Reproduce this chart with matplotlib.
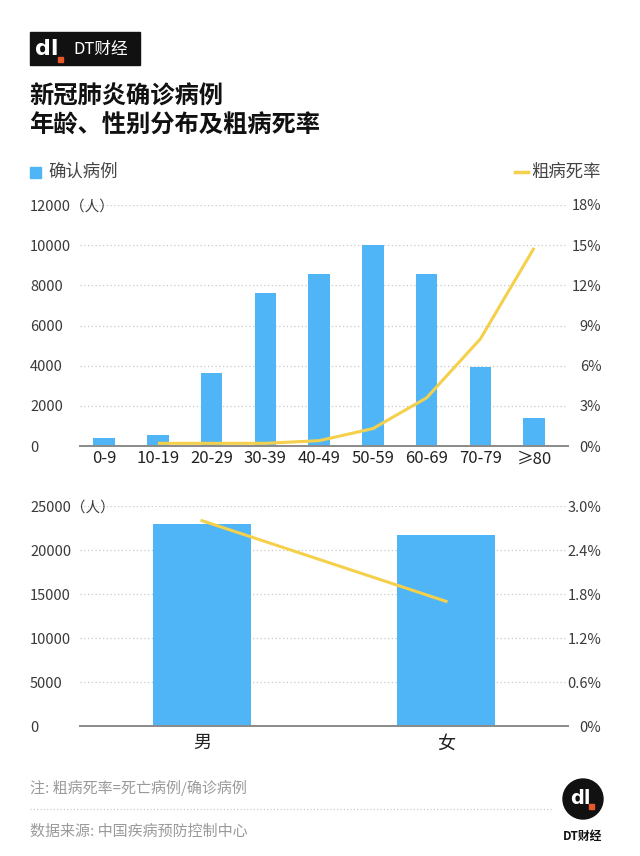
import matplotlib
matplotlib.use("Agg")
import numpy as np
import matplotlib.pyplot as plt
from matplotlib.patches import Rectangle, Ellipse
from matplotlib.lines import Line2D

plt.rcParams['font.family'] = ['Noto Sans CJK SC', 'DejaVu Sans']

## DATA ##
age_groups = ["0-9", "10-19", "20-29", "30-39", "40-49",
              "50-59", "60-69", "70-79", "≥80"]
age_cases = [416, 549, 3619, 7600, 8571, 10008, 8583, 3918, 1408]
age_cfr = [np.nan, 0.2, 0.2, 0.2, 0.4, 1.3, 3.6, 8.0, 14.8]

sex_groups = ["男", "女"]
sex_cases = [22981, 21691]
sex_cfr = [2.8, 1.7]

age_left_ticks = [0, 2000, 4000, 6000, 8000, 10000, 12000]
age_right_ticks = [0, 3, 6, 9, 12, 15, 18]
sex_left_ticks = [0, 5000, 10000, 15000, 20000, 25000]
sex_right_ticks = [0, 0.6, 1.2, 1.8, 2.4, 3.0]

BLUE = "#4fb5f6"
YELLOW = "#f5d04c"
GRID = "#c9c9c9"
TICK = "#3a3a3a"

W, H = 640, 856
fig = plt.figure(figsize=(W / 100, H / 100), dpi=100)


def fx(px):
    return px / W


def fy(py):
    return 1 - py / H


def style_axes(ax, ax2, left_ticks, left_labels, right_ticks, right_labels):
    ax.set_yticks(left_ticks)
    ax.set_yticklabels(left_labels)
    ax2.set_yticks(right_ticks)
    ax2.set_yticklabels(right_labels)
    for a in (ax, ax2):
        for s in a.spines.values():
            s.set_visible(False)
        a.tick_params(axis="y", length=0, colors=TICK, labelsize=10.5)
    ax.tick_params(axis="x", length=0)
    ax.spines["bottom"].set_visible(True)
    ax.spines["bottom"].set_color("#8a8a8a")
    ax.spines["bottom"].set_linewidth(1.4)
    ax.tick_params(axis="y", pad=36)
    for lab in ax.get_yticklabels():
        lab.set_ha("left")
    ax2.tick_params(axis="y", pad=24)
    for lab in ax2.get_yticklabels():
        lab.set_ha("right")
    ax.grid(axis="y", linestyle=(0, (1, 2)), color=GRID, linewidth=0.9)
    ax.set_axisbelow(True)
    ax2.set_zorder(ax.get_zorder() + 1)
    ax2.patch.set_visible(False)


## 1. AGE CHART ##
ax1 = fig.add_axes([fx(80), fy(446), fx(488), (446 - 205) / H])
x_age = np.arange(len(age_groups))
ax1.bar(x_age, age_cases, width=0.4, color=BLUE, zorder=2)
ax1.set_xlim(-0.45, 8.63)
ax1.set_ylim(0, 12000)
ax1.set_xticks(x_age)
ax1.set_xticklabels(age_groups, fontsize=12, color="#222222")
ax1.tick_params(axis="x", pad=3)

ax1b = ax1.twinx()
ax1b.plot(x_age, age_cfr, color=YELLOW, linewidth=2.2, solid_capstyle="butt")
ax1b.set_ylim(0, 18)
style_axes(ax1, ax1b, age_left_ticks,
           [f"{v}（人）" if v == 12000 else str(v) for v in age_left_ticks],
           age_right_ticks, [f"{v}%" for v in age_right_ticks])

## 2. SEX CHART ##
ax2 = fig.add_axes([fx(80), fy(726), fx(488), (726 - 506) / H])
x_sex = np.arange(len(sex_groups))
ax2.bar(x_sex, sex_cases, width=0.4, color=BLUE, zorder=2)
ax2.set_xlim(-0.5, 1.5)
ax2.set_ylim(0, 25000)
ax2.set_xticks(x_sex)
ax2.set_xticklabels(sex_groups, fontsize=13, color="#222222")
ax2.tick_params(axis="x", pad=6)

ax2b = ax2.twinx()
ax2b.plot(x_sex, sex_cfr, color=YELLOW, linewidth=2.2)
ax2b.set_ylim(0, 3.0)
style_axes(ax2, ax2b, sex_left_ticks,
           [f"{v}（人）" if v == 25000 else str(v) for v in sex_left_ticks],
           sex_right_ticks, [f"{v:.1f}%" if v else "0%" for v in sex_right_ticks])

## HEADER ##
fig.patches.append(Rectangle((fx(30), fy(65)), fx(110), 33 / H,
                             transform=fig.transFigure, color="#111111"))
fig.text(fx(35), fy(49), "dl", color="white", fontsize=16, fontweight="bold",
         family="DejaVu Sans", va="center")
fig.patches.append(Rectangle((fx(58), fy(62)), fx(5), 5 / H,
                             transform=fig.transFigure, color="#e8572a"))
fig.text(fx(73), fy(49), "DT财经", color="white", fontsize=12, va="center")

fig.text(fx(29), fy(97), "新冠肺炎确诊病例", fontsize=17.5, fontweight="bold",
         color="#111111", va="center")
fig.text(fx(29), fy(126), "年龄、性别分布及粗病死率", fontsize=17.5,
         fontweight="bold", color="#111111", va="center")

## LEGEND ##
fig.patches.append(Rectangle((fx(30), fy(178)), fx(11), 11 / H,
                             transform=fig.transFigure, color=BLUE))
fig.text(fx(48), fy(172), "确认病例", fontsize=12.5, color="#444444",
         va="center")
fig.lines.append(Line2D([fx(515), fx(528)], [fy(172), fy(172)],
                        transform=fig.transFigure, color=YELLOW, linewidth=2.5))
fig.text(fx(601), fy(172), "粗病死率", fontsize=12.5, color="#444444",
         va="center", ha="right")

## FOOTER ##
fig.text(fx(30), fy(788), "注: 粗病死率=死亡病例/确诊病例", fontsize=10.8,
         color="#9a9a9a", va="center")
fig.lines.append(Line2D([fx(30), fx(553)], [fy(809), fy(809)],
                        transform=fig.transFigure, color="#c4c4c4",
                        linewidth=0.8, linestyle=(0, (1, 2))))
fig.text(fx(30), fy(832), "数据来源: 中国疾病预防控制中心", fontsize=10.8,
         color="#9a9a9a", va="center")

fig.patches.append(Ellipse((fx(583), fy(799)), fx(40), 40 / H,
                           transform=fig.transFigure, color="#111111"))
fig.text(fx(580), fy(799), "dl", color="white", fontsize=14, fontweight="bold",
         family="DejaVu Sans", ha="center", va="center")
fig.patches.append(Rectangle((fx(589), fy(809)), fx(5), 5 / H,
                             transform=fig.transFigure, color="#e8572a"))
fig.text(fx(583), fy(836), "DT财经", fontsize=8.5, fontweight="bold",
         color="#111111", ha="center", va="center")

fig.savefig("out.png", dpi=100, facecolor="white")
